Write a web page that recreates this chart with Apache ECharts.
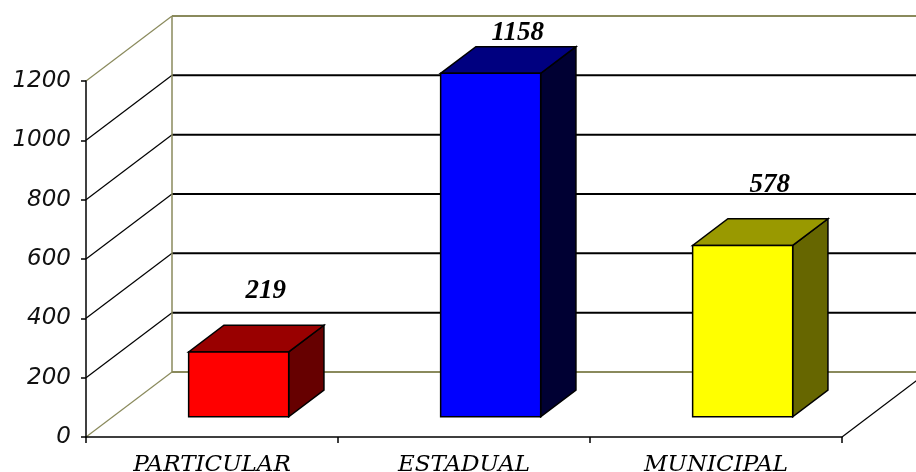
<!DOCTYPE html>
<html>
<head>
<meta charset="utf-8">
<script src="https://cdn.jsdelivr.net/npm/echarts@6/dist/echarts.min.js"></script>
<style>
  html, body { margin: 0; padding: 0; background: #fff; }
  #chart { width: 916px; height: 472px; }
</style>
</head>
<body>
<div id="chart"></div>
<script>
// Data
const categories = ['PARTICULAR', 'ESTADUAL', 'MUNICIPAL'];
const values = [219, 1158, 578];
const yMin = 0;
const yMax = 1200;
const yStep = 200;

// Face colours per bar: front, top, side
const faceColors = [
  ['#ff0000', '#990000', '#660000'],
  ['#0000ff', '#000080', '#000033'],
  ['#ffff00', '#999900', '#666600']
];

// 3D projection of the depth axis (pixels from front plane to back wall)
const DX = 86;
const DY = -65;
const FRONT = 0.31;   // depth fraction where the bar front face sits
const DEPTH = 0.41;   // bar depth as fraction of the full depth
const WALL = '#8a8a5c';

const ticks = [];
for (let v = yMin; v <= yMax; v += yStep) ticks.push(v);

function seg(x1, y1, x2, y2, color, width) {
  return {
    type: 'line',
    shape: { x1, y1, x2, y2 },
    style: { stroke: color, lineWidth: width }
  };
}

// Walls, floor and gridlines of the 3D box
function renderFrame(params, api) {
  const cs = params.coordSys;
  const left = cs.x;
  const right = cs.x + cs.width;
  const yOf = v => api.coord([0, v])[1];
  const children = [];
  ticks.forEach(v => {
    const yf = yOf(v);
    const yb = yf + DY;
    const edge = (v === yMin || v === yMax);
    const color = edge ? WALL : '#000';
    children.push(seg(left, yf, left + DX, yb, color, 1.2));
    children.push(seg(left + DX, yb, right + DX, yb, color, 2));
  });
  children.push(seg(left + DX, yOf(yMin) + DY, left + DX, yOf(yMax) + DY, WALL, 1.5));
  children.push(seg(right, yOf(yMin), right + DX, yOf(yMin) + DY, '#000', 1.2));
  return { type: 'group', children };
}

// One 3D column with its value label
function renderBar(params, api) {
  const idx = api.value(0);
  const val = api.value(1);
  const base = api.coord([idx, 0]);
  const top = api.coord([idx, val]);
  const band = api.size([1, 0])[0];
  const w = band * 0.397;
  const fx = base[0] - w / 2 + DX * FRONT;
  const fy0 = base[1] + DY * FRONT;
  const fy1 = top[1] + DY * FRONT;
  const ddx = DX * DEPTH;
  const ddy = DY * DEPTH;
  const col = faceColors[idx];
  const stroke = { stroke: '#000', lineWidth: 1.5, lineJoin: 'miter' };
  const ceiling = api.coord([0, yMax])[1] + DY;
  const labelY = Math.max(fy1 + ddy - 34, ceiling + 17);
  return {
    type: 'group',
    children: [
      {
        type: 'polygon',
        shape: { points: [[fx + w, fy1], [fx + w + ddx, fy1 + ddy], [fx + w + ddx, fy0 + ddy], [fx + w, fy0]] },
        style: Object.assign({ fill: col[2] }, stroke)
      },
      {
        type: 'polygon',
        shape: { points: [[fx, fy1], [fx + w, fy1], [fx + w + ddx, fy1 + ddy], [fx + ddx, fy1 + ddy]] },
        style: Object.assign({ fill: col[1] }, stroke)
      },
      {
        type: 'rect',
        shape: { x: fx, y: fy1, width: w, height: fy0 - fy1 },
        style: Object.assign({ fill: col[0] }, stroke)
      },
      {
        type: 'text',
        style: {
          text: String(val),
          x: fx + w / 2 + 27,
          y: labelY,
          fill: '#000',
          fontFamily: '"Liberation Serif", serif',
          fontStyle: 'italic',
          fontWeight: 'bold',
          fontSize: 27,
          align: 'center',
          verticalAlign: 'middle'
        }
      }
    ]
  };
}

const chart = echarts.init(document.getElementById('chart'), null, { renderer: 'canvas' });
chart.setOption({
  animation: false,
  backgroundColor: '#ffffff',
  grid: { left: 86, right: 74, top: 81, bottom: 35, containLabel: false, outerBoundsMode: 'none' },
  xAxis: {
    type: 'category',
    data: categories,
    boundaryGap: true,
    axisLine: { show: true, lineStyle: { color: '#000', width: 1.5 } },
    axisTick: { show: true, length: 6, lineStyle: { color: '#000', width: 1.5 } },
    axisLabel: {
      margin: 17,
      color: '#000',
      fontFamily: '"DejaVu Serif", serif',
      fontStyle: 'italic',
      fontSize: 23
    },
    splitLine: { show: false },
    z: 10
  },
  yAxis: {
    type: 'value',
    min: yMin,
    max: yMax,
    interval: yStep,
    axisLine: { show: true, lineStyle: { color: '#000', width: 1.5 } },
    axisTick: { show: true, length: 5, lineStyle: { color: '#000', width: 1.5 } },
    axisLabel: {
      margin: 15,
      color: '#111',
      fontFamily: '"DejaVu Sans", sans-serif',
      fontStyle: 'italic',
      fontSize: 23,
      formatter: v => String(v)
    },
    splitLine: { show: false },
    z: 10
  },
  series: [
    {
      type: 'custom',
      renderItem: renderFrame,
      data: [[0, 0]],
      clip: false,
      silent: true,
      z: 1
    },
    {
      type: 'custom',
      renderItem: renderBar,
      data: values.map((v, i) => [i, v]),
      clip: false,
      z: 5
    }
  ]
});
</script>
</body>
</html>
